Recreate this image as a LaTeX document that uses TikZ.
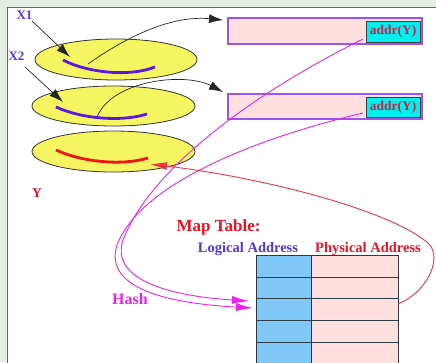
\documentclass[tikz,border=0pt]{standalone}
\usepackage{fontspec}
\setmainfont{Liberation Serif}
\usetikzlibrary{arrows.meta,shapes.geometric}

\definecolor{pagebg}{HTML}{E4ECE4}
\definecolor{framecol}{HTML}{56686A}
\definecolor{diskfill}{HTML}{F5F562}
\definecolor{violetline}{HTML}{5A18E0}
\definecolor{redline}{HTML}{EE1515}
\definecolor{pinkfill}{HTML}{FFE0E0}
\definecolor{boxedge}{HTML}{9955EE}
\definecolor{cyanfill}{HTML}{00F0F0}
\definecolor{addrtext}{HTML}{CC2244}
\definecolor{titlered}{HTML}{EE1122}
\definecolor{logblue}{HTML}{5533DD}
\definecolor{bluefill}{HTML}{80C8F8}
\definecolor{hashcol}{HTML}{EE22EE}
\definecolor{linkred}{HTML}{EE3344}
\definecolor{gridcol}{HTML}{2A3A44}

\tikzset{
  disk/.style={ellipse, draw=black!80, fill=diskfill, line width=0.8pt, inner sep=0pt},
  pointer/.style={violetline, line width=2.8pt},
  target/.style={redline, line width=2.8pt},
  blockbox/.style={draw=boxedge, fill=pinkfill, line width=1.3pt, inner sep=0pt},
  addrbox/.style={draw=black!75, fill=cyanfill, line width=1pt, inner sep=0pt,
    font=\fontsize{13.5}{14}\selectfont\bfseries, text=addrtext},
  lbl/.style={anchor=base, inner sep=0pt, font=\fontsize{13}{14}\selectfont\bfseries},
  blackarrow/.style={black!85, line width=0.7pt, -{Latex[length=14pt,width=9pt]}},
  hasharrow/.style={hashcol, line width=0.9pt, -{Latex[length=17pt,width=8pt]}},
  backarrow/.style={linkred, line width=0.9pt, -{Latex[length=17pt,width=8pt]}},
  cellline/.style={gridcol, line width=0.9pt}
}

\begin{document}
\begin{tikzpicture}[x=1pt,y=-1pt]
\useasboundingbox (0,0) rectangle (436,362);
\clip (0,0) rectangle (436,362);

% page and panel
\fill[pagebg] (0,0) rectangle (436,362);
\fill[white] (7,7) rectangle (440,370);
\draw[framecol, line width=1pt] (7,370) -- (7,7) -- (440,7);

% the three disks
\node[disk, minimum width=162pt, minimum height=41pt] (e1) at (116,59.5) {};
\node[disk, minimum width=163pt, minimum height=40pt] (e2) at (113.5,106) {};
\node[disk, minimum width=163pt, minimum height=41pt] (e3) at (113.5,151.5) {};

% pointers on the disks
\draw[pointer] (63,60) .. controls (88,73) and (130,77) .. (155,67);
\draw[pointer] (56,107) .. controls (82,119) and (122,122) .. (147,114);
\draw[target] (56,150) .. controls (82,162) and (122,166) .. (148,158);

% labels
\node[lbl, text=logblue] (x1) at (24.5,19) {X1};
\node[lbl, text=logblue] (x2) at (16.5,60) {X2};
\node[lbl, text=titlered, font=\fontsize{13.5}{14}\selectfont\bfseries] (y) at (37,197) {Y};

\coordinate (x1from) at (32,21);
\coordinate (x1to) at (70,57);
\coordinate (x2from) at (25,67);
\coordinate (x2to) at (63,102);
\draw[blackarrow] (x1from) -- (x1to);
\draw[blackarrow] (x2from) -- (x2to);

% blocks holding addr(Y)
\node[blockbox, minimum width=194pt, minimum height=26pt] (b1) at (325,31) {};
\node[blockbox, minimum width=194pt, minimum height=25pt] (b2) at (325,106.5) {};
\node[addrbox, minimum width=54pt, minimum height=21pt] (a1) at (393,31.5) {addr(Y)};
\node[addrbox, minimum width=54pt, minimum height=20pt] (a2) at (393,107) {addr(Y)};

\coordinate (p1) at (88,64);
\coordinate (p2) at (97,117);
\coordinate (b1in) at (223,20);
\coordinate (b2in) at (223,92);
\draw[blackarrow] (p1) .. controls (125,38) and (170,15) .. (b1in);
\draw[blackarrow] (p2) .. controls (112,80) and (185,72) .. (b2in);

% map table
\node[lbl, text=titlered, font=\fontsize{17}{18}\selectfont\bfseries] (title) at (218.5,231) {Map Table:};
\node[lbl, text=logblue, font=\fontsize{14.5}{15}\selectfont\bfseries] (lh) at (248,252) {Logical Address};
\node[lbl, text=titlered, font=\fontsize{14.5}{15}\selectfont\bfseries] (ph) at (368,252) {Physical Address};

\fill[bluefill] (256,255) rectangle (311,366);
\fill[pinkfill] (311,255) rectangle (398,366);
\foreach \yy in {255,277,298,320,342}
  \draw[cellline] (256,\yy) -- (398,\yy);
\draw[cellline] (256,255) -- (256,366);
\draw[cellline] (311,255) -- (311,366);
\draw[cellline] (398,255) -- (398,366);

\node[lbl, text=hashcol, font=\fontsize{16}{17}\selectfont\bfseries] (hash) at (130,304) {Hash};

% hashing from addr(Y) into the table
\coordinate (h1) at (363,39);
\coordinate (h2) at (363,113);
\coordinate (t1) at (249,301);
\coordinate (t2) at (253,308);
\draw[hasharrow] (h1) .. controls (250,95) and (150,170) .. (123,240)
                      .. controls (110,280) and (170,296) .. (t1);
\draw[hasharrow] (h2) .. controls (250,140) and (140,185) .. (117,245)
                      .. controls (102,292) and (180,304) .. (t2);

% physical address back to Y
\coordinate (r0) at (398,304);
\coordinate (ry) at (150,164);
\draw[backarrow] (r0) .. controls (425,293) and (442,262) .. (430,245)
                      .. controls (400,215) and (280,180) .. (ry);
\end{tikzpicture}
\end{document}
